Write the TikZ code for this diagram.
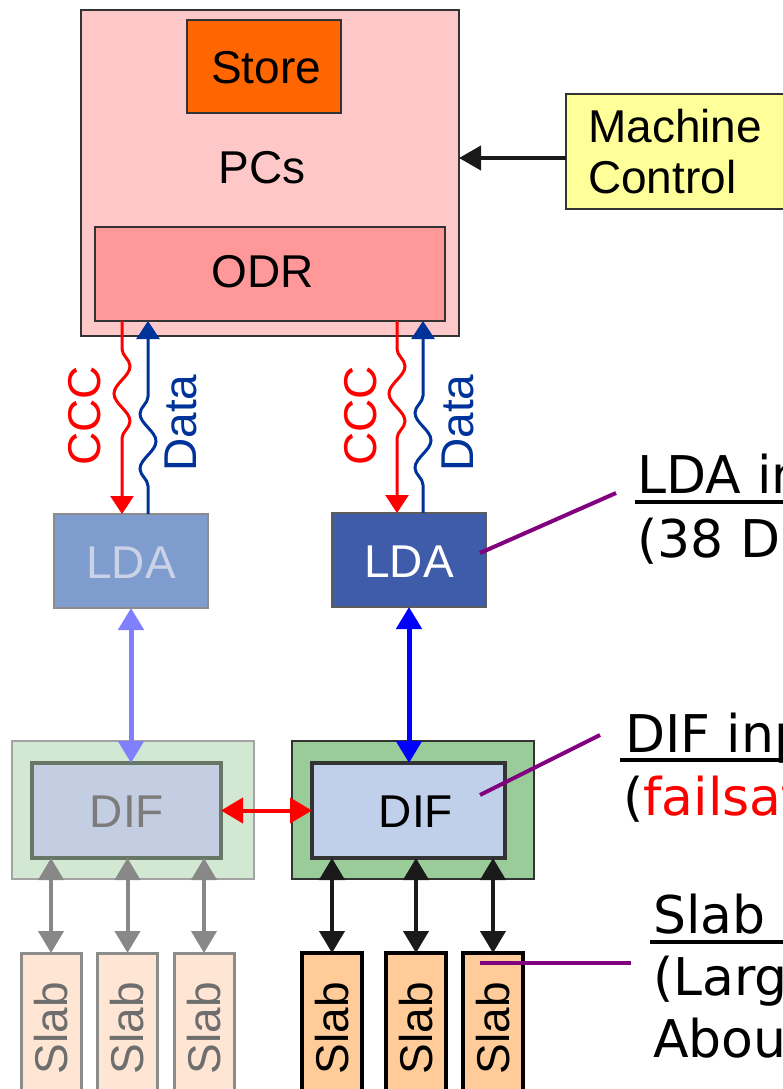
\documentclass[tikz,border=0pt]{standalone}
\usepackage{fontspec}
\setmainfont{Liberation Sans}
\newfontfamily\annfont{DejaVu Sans}
\usetikzlibrary{arrows.meta,decorations.pathmorphing,calc}
\definecolor{pcfill}{HTML}{FFC8C8}
\definecolor{storefill}{HTML}{FF6600}
\definecolor{odrfill}{HTML}{FF9999}
\definecolor{mcfill}{HTML}{FFFF99}
\definecolor{ldaLfill}{HTML}{7F9CCE}
\definecolor{ldaRfill}{HTML}{3F5CAB}
\definecolor{ldaLtext}{HTML}{C9D2E6}
\definecolor{difLout}{HTML}{D2E8D2}
\definecolor{difRout}{HTML}{9ACC99}
\definecolor{difLin}{HTML}{C4CEE2}
\definecolor{difRin}{HTML}{C0D0EA}
\definecolor{slabL}{HTML}{FFE6D4}
\definecolor{slabR}{HTML}{FFCC99}
\definecolor{cccred}{HTML}{FF0000}
\definecolor{datablue}{HTML}{003399}
\definecolor{lavender}{HTML}{8080FF}
\definecolor{annpurple}{HTML}{800080}
\definecolor{edge}{HTML}{333333}
\definecolor{fadeedge}{HTML}{8C8C8C}
\definecolor{fadetext}{HTML}{6E6E6E}
\definecolor{difLedge}{HTML}{667766}
\definecolor{arrowgray}{HTML}{888888}
\definecolor{arrowblack}{HTML}{1A1A1A}
\tikzset{
  boxb/.style={draw=#1, line width=2.5pt, inner sep=0pt, outer sep=0pt},
  lbl/.style={font=\fontsize{46}{51}\selectfont, inner sep=0pt},
  ann/.style={font=\annfont\fontsize{52}{62}\selectfont, inner sep=0pt, anchor=base west},
  ulline/.style={line width=4pt},
  ptr/.style={draw=annpurple, line width=4pt},
  wav/.style={line width=3pt, decorate,
    decoration={snake, amplitude=8pt, segment length=55pt, pre length=28pt, post length=52pt}},
  tipA/.style={-{Triangle[width=23pt,length=18pt]}},
  dbl/.style={{Triangle[width=25pt,length=22pt]}-{Triangle[width=25pt,length=22pt]}},
}
\begin{document}
\begin{tikzpicture}[x=1pt,y=-1pt]
\useasboundingbox (0,0) rectangle (783,1089);
\clip (0,0) rectangle (783,1089);

% PCs block
\node[boxb=edge, fill=pcfill, minimum width=378pt, minimum height=326pt] (pcs) at (270,173) {};
\node[boxb=edge, fill=storefill, minimum width=154pt, minimum height=93pt] (store) at (264,66.5) {};
\node[lbl] (storet) at (266,68) {Store};
\node[lbl] (pcst) at (262,168) {PCs};
\node[boxb=edge, fill=odrfill, minimum width=350pt, minimum height=94pt] (odr) at (270,274) {};
\node[lbl] (odrt) at (263,272) {ODR};

% Machine control
\node[boxb=edge, fill=mcfill, minimum width=240pt, minimum height=115pt] (mc) at (686,151.5) {};
\node[lbl, anchor=west, align=left] (mct) at (588,152) {Machine\\Control};
\coordinate (mcin) at (566,158);
\draw[line width=4pt, draw=arrowblack, -{Triangle[width=24pt,length=22pt]}] (mcin) -- (mcin -| pcs.east);

% LDAs
\node[boxb=fadeedge, line width=2pt, fill=ldaLfill, minimum width=154pt, minimum height=94pt] (lda1) at (131,561) {};
\node[lbl, text=ldaLtext] (lda1t) at (131,563) {LDA};
\node[boxb=edge!80, line width=2pt, fill=ldaRfill, minimum width=154pt, minimum height=94pt] (lda2) at (409,560) {};
\node[lbl, text=white] (lda2t) at (409,562) {LDA};

% CCC / Data wavy links
\coordinate (c1) at (122,321);
\coordinate (d1) at (148,321);
\coordinate (c2) at (397,321);
\coordinate (d2) at (423,321);
\draw[wav, draw=cccred, tipA] (c1) -- (c1 |- lda1.north);
\draw[wav, draw=datablue, tipA] (d1 |- lda1.north) -- (d1);
\draw[wav, draw=cccred, tipA] (c2) -- (c2 |- lda2.north);
\draw[wav, draw=datablue, tipA] (d2 |- lda2.north) -- (d2);
\node[lbl, rotate=90, text=cccred] (ccc1) at (85,416) {CCC};
\node[lbl, rotate=90, text=datablue] (data1) at (181,423) {Data};
\node[lbl, rotate=90, text=cccred] (ccc2) at (361,416) {CCC};
\node[lbl, rotate=90, text=datablue] (data2) at (458,423) {Data};

% DIFs
\node[boxb=fadeedge!80, line width=2pt, fill=difLout, minimum width=242pt, minimum height=138pt] (difLo) at (133,810) {};
\node[boxb=difLedge, line width=4.5pt, fill=difLin, minimum width=189pt, minimum height=95pt] (difL) at (126.5,810.5) {};
\node[lbl, text=fadetext!90] (difLt) at (127,812) {DIF};
\node[boxb=edge, line width=2.5pt, fill=difRout, minimum width=242pt, minimum height=138pt] (difRo) at (413,810) {};
\node[boxb=edge, line width=4.5pt, fill=difRin, minimum width=193pt, minimum height=95pt] (difR) at (408.5,810.5) {};
\node[lbl] (difRt) at (416,812) {DIF};

% LDA - DIF links
\draw[line width=5pt, draw=lavender, dbl] (lda1.south) -- (lda1.south |- difL.north);
\draw[line width=5pt, draw=blue, dbl] (lda2.south) -- (lda2.south |- difR.north);
\draw[line width=4pt, draw=cccred, dbl] (difL.east) -- (difR.west);

% Slabs
\foreach \n/\x in {1/51, 2/127.5, 3/204}{
  \node[boxb=fadeedge, line width=3pt, fill=slabL, minimum width=60pt, minimum height=150pt] (sl\n) at (\x,1028) {};
  \node[lbl, rotate=90, text=fadetext] (sl\n t) at (sl\n) {Slab};
  \draw[line width=4pt, draw=arrowgray, dbl] (sl\n.north) -- (sl\n.north |- difL.south);
}
\foreach \n/\x in {1/332, 2/416, 3/493}{
  \node[boxb=black, line width=3.5pt, fill=slabR, minimum width=60pt, minimum height=150pt] (sr\n) at (\x,1028) {};
  \node[lbl, rotate=90] (sr\n t) at (sr\n) {Slab};
  \draw[line width=4pt, draw=arrowblack, dbl] (sr\n.north) -- (sr\n.north |- difR.south);
}

% Annotations
\node[ann] (a1) at (637,493) {LDA in};
\node[ann] (a1b) at (637,557) {(38 DI};
\draw[ulline] ($(a1.base west)+(-2,9)$) -- ++(200,0);
\draw[ptr] ($(lda2.center)+(71,-7)$) -- ($(a1.base west)+(-21,0)$);

\node[ann] (a2) at (625,752) {DIF inp};
\node[ann] (a2b) at (623,815) {(\textcolor{cccred}{failsaf}};
\draw[ulline] ($(a2.base west)+(-5,8)$) -- ++(220,0);
\draw[ptr] ($(difR.center)+(71.5,-15.5)$) -- ($(a2.base west)+(-25,-17)$);

\node[ann] (a3) at (653,933) {Slab c};
\node[ann] (a3b) at (653,995) {(Large};
\node[ann] (a3c) at (653,1057) {About};
\draw[ulline] ($(a3.base west)+(-3,9)$) -- ++(200,0);
\draw[ptr] ($(sr3.north)+(-13,10)$) -- ($(a3.base west)+(-22,30)$);
\end{tikzpicture}
\end{document}
